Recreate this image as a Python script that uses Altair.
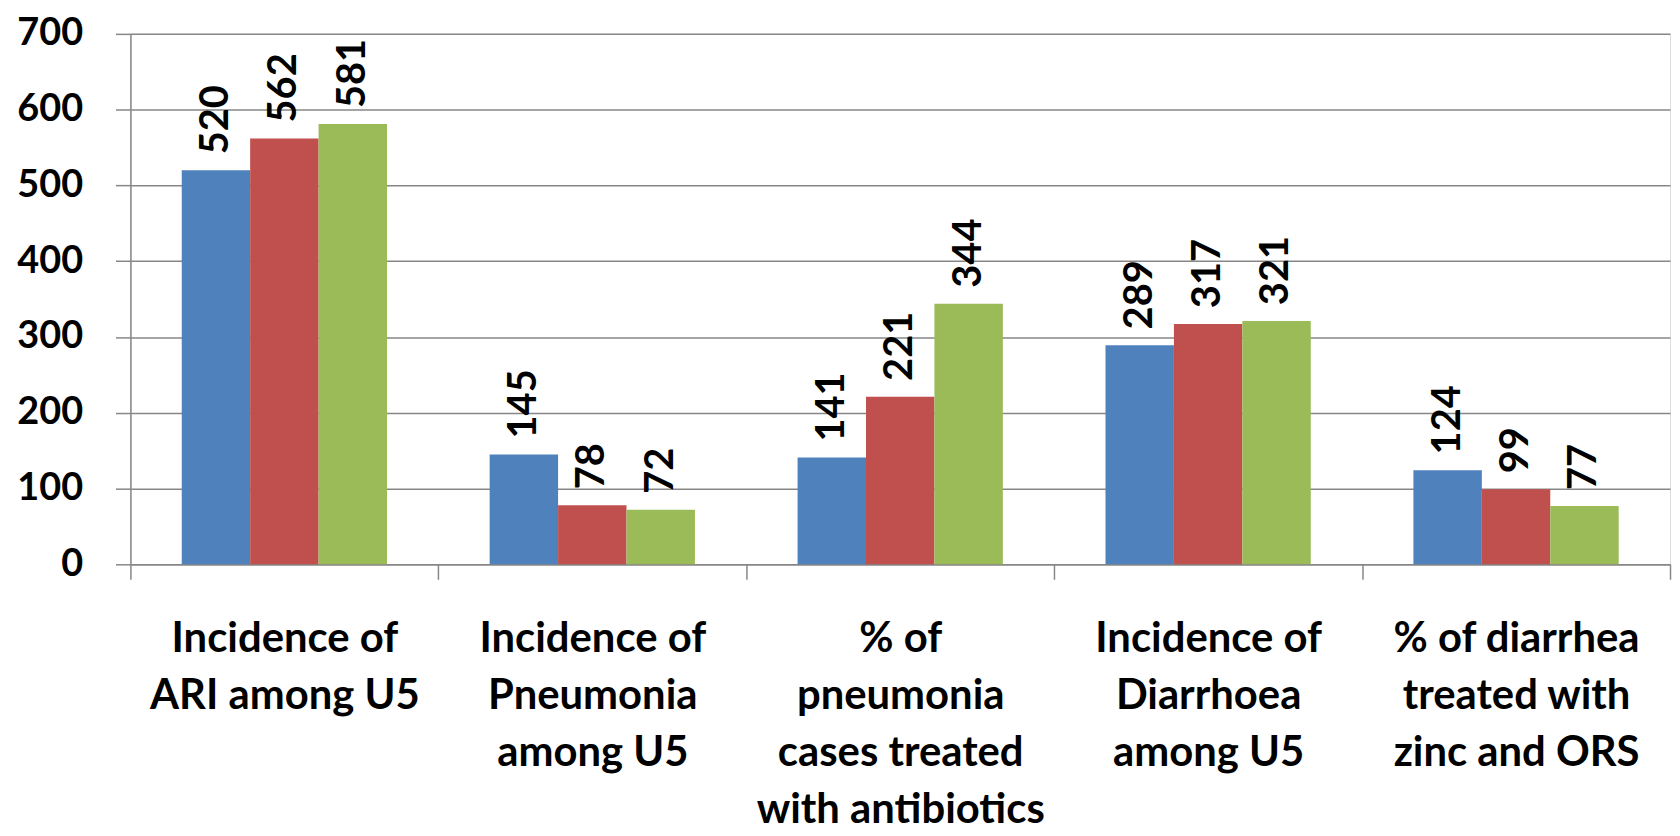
import altair as alt
import pandas as pd

categories = [
    "Incidence of|ARI among U5",
    "Incidence of|Pneumonia|among U5",
    "% of|pneumonia|cases treated|with antibiotics",
    "Incidence of|Diarrhoea|among U5",
    "% of diarrhea|treated with|zinc and ORS",
]
series = ["Series 1", "Series 2", "Series 3"]
values_s1 = [520, 145, 141, 289, 124]
values_s2 = [562, 78, 221, 317, 99]
values_s3 = [581, 72, 344, 321, 77]
colors = ["#4F81BD", "#C0504D", "#9BBB59"]
y_ticks = [0, 100, 200, 300, 400, 500, 600, 700]

rows = []
for s, vals in zip(series, [values_s1, values_s2, values_s3]):
    for c, v in zip(categories, vals):
        rows.append({"cat": c, "series": s, "value": v})
df = pd.DataFrame(rows)

GRAY = "#878787"

x = alt.X(
    "cat:N",
    sort=categories,
    scale=alt.Scale(paddingInner=0, paddingOuter=0),
    axis=alt.Axis(
        title=None,
        labelExpr="split(datum.label, '|')",
        tickBand="extent",
        tickSize=15,
        tickColor=GRAY,
        tickWidth=1.5,
        domainColor=GRAY,
        domainWidth=1.5,
        labelFont="Lato",
        labelFontWeight="bold",
        labelFontSize=42,
        labelColor="black",
        labelLineHeight=57,
        labelPadding=40,
        labelLimit=0,
        labelAngle=0,
        grid=False,
    ),
)
xo = alt.XOffset(
    "series:N",
    sort=series,
    scale=alt.Scale(paddingInner=0, paddingOuter=0.75),
)
y = alt.Y(
    "value:Q",
    scale=alt.Scale(domain=[0, 700], nice=False),
    axis=alt.Axis(
        title=None,
        values=y_ticks,
        tickSize=15,
        tickColor=GRAY,
        tickWidth=1.5,
        domainColor=GRAY,
        domainWidth=1.5,
        gridColor=GRAY,
        gridWidth=1.5,
        labelFont="Lato",
        labelFontWeight="bold",
        labelFontSize=38,
        labelColor="black",
        labelPadding=33,
    ),
)

base = alt.Chart(df)
bars = base.mark_bar().encode(
    x=x,
    xOffset=xo,
    y=y,
    color=alt.Color("series:N", sort=series, scale=alt.Scale(domain=series, range=colors), legend=None),
)
labels = base.mark_text(
    angle=270, align="left", baseline="middle", dx=16,
    font="Lato", fontWeight="bold", fontSize=40, color="black",
).encode(
    x=x,
    xOffset=xo,
    y=y,
    text=alt.Text("value:Q"),
)

chart = alt.layer(bars, labels).properties(
    width=1547,
    height=533,
    autosize=alt.AutoSizeParams(type="none"),
    padding={"left": 123, "top": 24, "right": 2, "bottom": 271},
).configure_view(stroke=None).configure(background="white")

chart.save("out.html", embed_options={"renderer": "svg", "actions": False})
